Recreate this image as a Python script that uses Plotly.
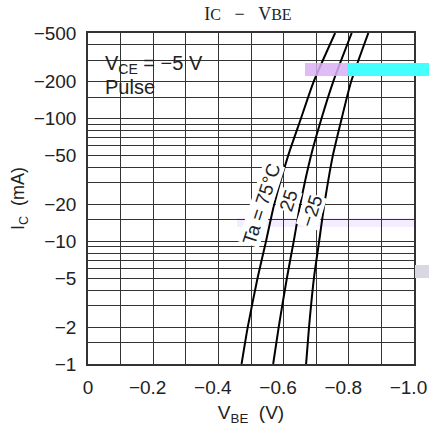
import plotly.graph_objects as go
import math

# ---- data ----
ic_ma = [-1, -2, -5, -10, -20, -50, -100, -200, -500]          # collector current, mA
vbe_75 = [-0.471, -0.490, -0.520, -0.546, -0.571, -0.614, -0.653, -0.692, -0.758]
vbe_25 = [-0.568, -0.585, -0.610, -0.631, -0.651, -0.684, -0.716, -0.752, -0.809]
vbe_m25 = [-0.669, -0.678, -0.693, -0.709, -0.725, -0.751, -0.778, -0.807, -0.860]
curve_labels = ["Ta = 75°C", "25", "−25"]

x_grid = [0, -0.1, -0.2, -0.3, -0.4, -0.5, -0.6, -0.7, -0.8, -0.9, -1.0]
x_labels = ["0", "", "−0.2", "", "−0.4", "", "−0.6", "", "−0.8", "", "−1.0"]
y_grid = [1, 1.5, 2, 3, 4, 5, 6, 7, 8, 9, 10, 15, 20, 30, 40, 50, 60, 70, 80, 90,
          100, 150, 200, 300, 400, 500]
y_labelled = {1: "−1", 2: "−2", 5: "−5", 10: "−10", 20: "−20", 50: "−50",
              100: "−100", 200: "−200", 500: "−500"}

W, H = 429, 426
L, R, T, B = 88, 15, 33, 62
FONT = "Liberation Sans, Arial, sans-serif"
SERIF = "Liberation Serif, Times New Roman, serif"
GHOST = "<span style='color:rgba(0,0,0,0)'>−</span>"   # keeps numbers centred on ticks

fig = go.Figure()
mag = [abs(v) for v in ic_ma]
for xs in (vbe_75, vbe_25, vbe_m25):
    fig.add_trace(go.Scatter(x=xs, y=mag, mode="lines",
                             line=dict(color="black", width=2, shape="spline", smoothing=0.6),
                             showlegend=False, hoverinfo="skip"))

NB = "\u00a0"
fig.update_layout(
    width=W, height=H,
    margin=dict(l=L, r=R, t=T, b=B, autoexpand=False),
    paper_bgcolor="white", plot_bgcolor="white",
    font=dict(family=FONT, size=19, color="#222"),
    title=dict(text="I<span style='font-size:16px'>C</span>" + NB * 3 + "−" + NB * 3 +
                    "V<span style='font-size:16px'>BE</span>",
               font=dict(family=SERIF, size=18, color="#222"),
               x=248 / W, xanchor="center", y=1 - 14 / H, yanchor="middle",
               automargin=False),
)
fig.update_xaxes(range=[0, -1.0], tickvals=x_grid,
                 ticktext=[t + GHOST if t.startswith("−") else t for t in x_labels],
                 showgrid=True, gridcolor="#333", gridwidth=1,
                 showline=True, mirror=True, linecolor="#333", linewidth=1.5,
                 ticks="", zeroline=False, ticklabelstandoff=5, automargin=False,
                 ticklabeloverflow="allow",
                 title=dict(text="V<sub>BE</sub>" + NB * 2 + "(V)", standoff=10,
                            font=dict(family=FONT, size=19, color="#222")))
fig.update_yaxes(type="log", range=[0, math.log10(500)],
                 tickvals=y_grid, ticktext=[y_labelled.get(v, "") for v in y_grid],
                 showgrid=True, gridcolor="#333", gridwidth=1,
                 showline=True, mirror=True, linecolor="#333", linewidth=1.5,
                 ticks="", zeroline=False, ticklabelstandoff=6, automargin=False,
                 title=dict(text="I<sub>C</sub>" + NB * 2 + "(mA)", standoff=4,
                            font=dict(family=FONT, size=18, color="#222")))

def px_x(p):
    return (p - L) / (W - L - R)

def px_y(p):
    return (H - B - p) / (H - T - B)

# white box behind the condition text
fig.add_shape(type="rect", xref="paper", yref="paper",
              x0=px_x(97), x1=px_x(208), y0=px_y(94), y1=px_y(50),
              fillcolor="white", line=dict(width=0), layer="between")
fig.add_annotation(xref="paper", yref="paper", x=px_x(103), y=px_y(64),
                   xanchor="left", yanchor="middle", showarrow=False,
                   text="V<sub>CE</sub> = −5 V", font=dict(size=20, color="#222"))
fig.add_annotation(xref="paper", yref="paper", x=px_x(103), y=px_y(87),
                   xanchor="left", yanchor="middle", showarrow=False,
                   text="Pulse", font=dict(size=20, color="#222"))

# curve labels
for txt, (cx, cy) in zip(curve_labels, [(261, 204), (288, 201), (311, 211)]):
    fig.add_annotation(xref="paper", yref="paper", x=px_x(cx), y=px_y(cy),
                       xanchor="center", yanchor="middle", showarrow=False,
                       text=txt, textangle=-72, bgcolor="white", borderpad=0,
                       font=dict(size=19, color="#222"))

# scan artefacts visible in the reference
fig.add_shape(type="rect", xref="paper", yref="paper",
              x0=px_x(237), x1=px_x(414), y0=px_y(227), y1=px_y(218),
              fillcolor="#f4ecff", line=dict(width=0), layer="between")
fig.add_shape(type="rect", xref="paper", yref="paper",
              x0=px_x(305), x1=px_x(347), y0=px_y(76), y1=px_y(63),
              fillcolor="#d9b0f5", line=dict(width=0), layer="above", opacity=0.85)
fig.add_shape(type="rect", xref="paper", yref="paper",
              x0=px_x(347), x1=px_x(429), y0=px_y(76), y1=px_y(63),
              fillcolor="#44ffff", line=dict(width=0), layer="above")
fig.add_shape(type="rect", xref="paper", yref="paper",
              x0=px_x(415), x1=px_x(429), y0=px_y(278), y1=px_y(265),
              fillcolor="#d8d8e2", line=dict(width=0), layer="above")

fig.write_html("out.html", config={"displayModeBar": False},
               post_script="document.body.style.margin='0';document.body.style.overflow='hidden';")
